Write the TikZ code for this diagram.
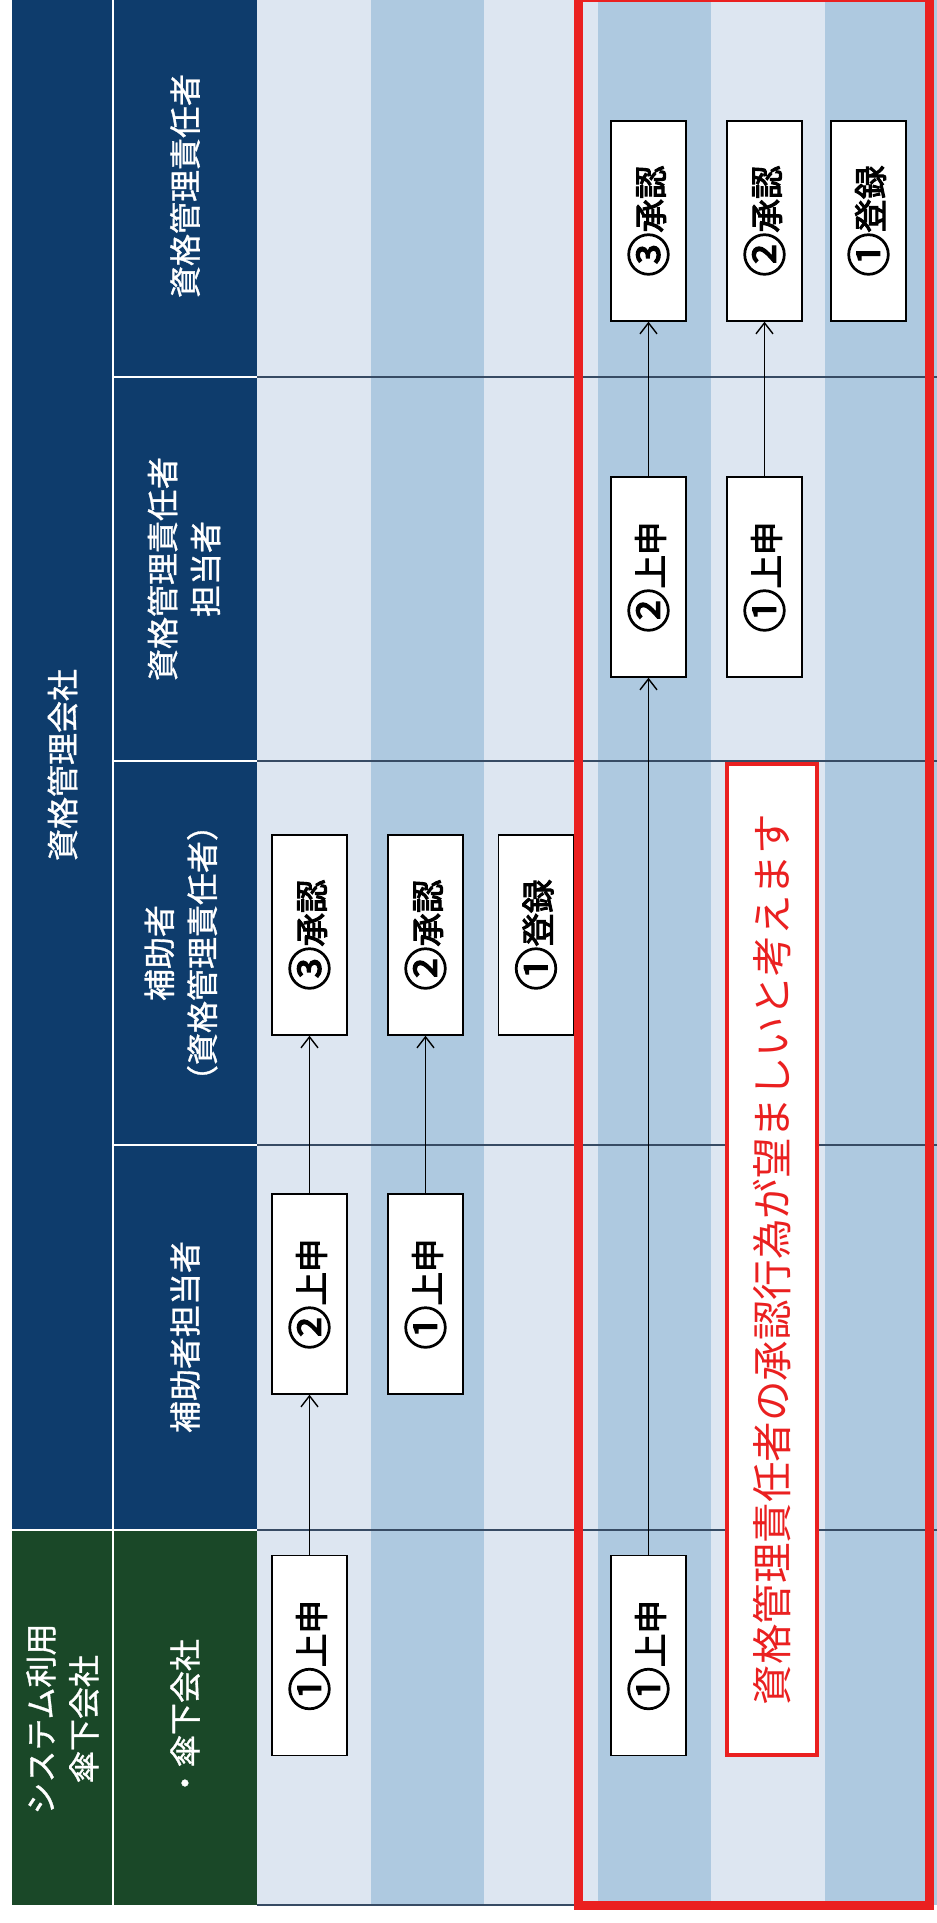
\documentclass[tikz,border=0pt]{standalone}
\usepackage{graphicx}
\usepackage{fontspec}
\setmainfont{Noto Sans CJK JP}
\newfontfamily\boxfont{Noto Sans CJK JP}[FakeBold=3]
\newfontfamily\hdrfont{Noto Sans CJK JP}[FakeBold=1]
\usetikzlibrary{arrows.meta}
\definecolor{hdrblue}{RGB}{14,60,108}
\definecolor{hdrgreen}{RGB}{26,72,40}
\definecolor{bandlight}{RGB}{221,230,241}
\definecolor{banddark}{RGB}{174,201,224}
\definecolor{divline}{RGB}{55,75,100}
\definecolor{alertred}{RGB}{234,32,32}
\newcommand\circnum[1]{{\fontsize{44}{33}\selectfont\raisebox{-2pt}{#1}}}
\newcommand\boxtext[2]{\rotatebox{90}{\circnum{#1}#2}}
\begin{document}
\begin{tikzpicture}[x=1pt,y=-1pt,
  hdr/.style={text=white,rotate=90,align=center,font=\hdrfont\fontsize{32}{43}\selectfont,inner sep=0},
  flowbox/.style={draw=black,fill=white,line width=1.4pt,minimum width=75,minimum height=200,inner sep=0,font=\boxfont\fontsize{33.5}{33}\selectfont},
  flowarrow/.style={draw=black,line width=1.4pt,-{Straight Barb[length=11pt,width=17pt]}},
  hdrline/.style={white,line width=2pt},
  rowline/.style={divline,line width=1.3pt},
  msgbox/.style={draw=alertred,fill=white,line width=3.5pt,minimum width=90,minimum height=991,inner sep=0,text=alertred,font=\fontsize{40.5}{40.5}\selectfont}]
\useasboundingbox (0,0) rectangle (937,1923);
\fill[white] (0,0) rectangle (937,1923);
% body stripes
\foreach \xa/\c in {257/bandlight,370.5/banddark,484/bandlight,597.5/banddark,711/bandlight,824.5/banddark}
  \fill[\c] (\xa,0) rectangle ++(113.5,1905);
% body row dividers
\foreach \yy in {377,761,1145,1530}
  \draw[rowline] (257,\yy) -- (937,\yy);
\draw[divline,line width=1.8pt] (257,1905) -- (576,1905);
% header cells
\fill[hdrblue] (12,0) rectangle (257,1530);
\fill[hdrgreen] (12,1530) rectangle (257,1905);
\draw[hdrline] (113,0) -- (113,1905);
\draw[hdrline] (12,1530) -- (257,1530);
\foreach \yy in {377,761,1145}
  \draw[hdrline] (113,\yy) -- (257,\yy);
% header texts
\node[hdr] (hco) at (62.5,765) {資格管理会社};
\node[hdr] (hsys) at (62.5,1719) {システム利用\\傘下会社};
\node[hdr] (hr1) at (185,186) {資格管理責任者};
\node[hdr] (hr2) at (184,569) {資格管理責任者\\担当者};
\node[hdr] (hr3) at (181,953) {補助者\\（資格管理責任者）};
\node[hdr] (hr4) at (185,1337) {補助者担当者};
\node[hdr] (hr5) at (185,1719) {・傘下会社};
% upper flow (left section)
\node[flowbox] (sA1) at (309.5,1655.5) {\boxtext{①}{上申}};
\node[flowbox] (hA2) at (309.5,1294) {\boxtext{②}{上申}};
\node[flowbox] (hA3) at (309.5,935) {\boxtext{③}{承認}};
\node[flowbox] (hB1) at (425.5,1294) {\boxtext{①}{上申}};
\node[flowbox] (hB2) at (425.5,935) {\boxtext{②}{承認}};
\node[flowbox] (hC1) at (536,935) {\boxtext{①}{登録}};
\draw[flowarrow] (sA1.north) -- (hA2.south);
\draw[flowarrow] (hA2.north) -- (hA3.south);
\draw[flowarrow] (hB1.north) -- (hB2.south);
% proposed flow (red section)
\node[flowbox] (sR1) at (648.5,1655.5) {\boxtext{①}{上申}};
\node[flowbox] (rA2) at (648.5,577) {\boxtext{②}{上申}};
\node[flowbox] (rA3) at (648.5,221) {\boxtext{③}{承認}};
\node[flowbox] (rB1) at (764.5,577) {\boxtext{①}{上申}};
\node[flowbox] (rB2) at (764.5,221) {\boxtext{②}{承認}};
\node[flowbox] (rC1) at (868.5,221) {\boxtext{①}{登録}};
\draw[flowarrow] (sR1.north) -- (rA2.south);
\draw[flowarrow] (rA2.north) -- (rA3.south);
\draw[flowarrow] (rB1.north) -- (rB2.south);
% red frame
\draw[alertred,line width=9pt] (578,-2.5) rectangle (929.5,1905.5);
% message
\node[msgbox] (msg) at (772,1259.5) {\rotatebox{90}{資格管理責任者の承認行為が望ましいと考えます}};
\end{tikzpicture}
\end{document}
